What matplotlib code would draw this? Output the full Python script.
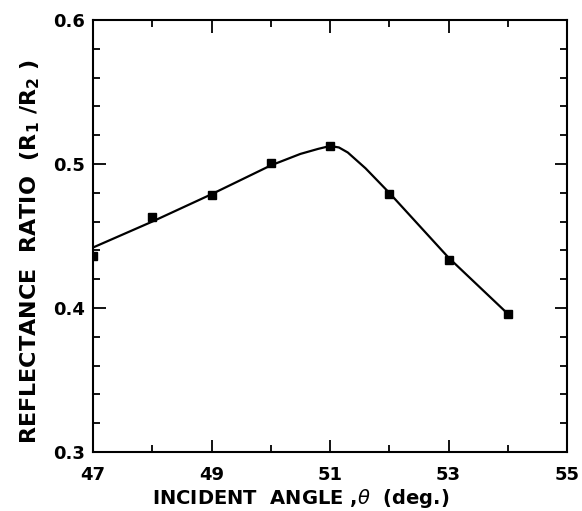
import matplotlib
matplotlib.use("Agg")
import matplotlib.pyplot as plt
from matplotlib.ticker import MultipleLocator, FixedLocator

# measured points (squares)
angle = [47, 48, 49, 50, 51, 52, 53, 54]
ratio = [0.436, 0.463, 0.4785, 0.501, 0.5125, 0.479, 0.433, 0.396]

# drawn smooth curve
curve_angle = [47, 48, 49, 50, 50.5, 50.8, 51, 51.15, 51.3, 51.6, 52, 53, 54]
curve_ratio = [0.442, 0.460, 0.479, 0.499, 0.507, 0.5105, 0.5125, 0.5115, 0.508, 0.497, 0.480, 0.435, 0.396]

xticks = [47, 49, 51, 53, 55]
xtick_labels = ["47", "49", "51", "53", "55"]
yticks = [0.3, 0.4, 0.5, 0.6]
ytick_labels = ["0.3", "0.4", "0.5", "0.6"]

plt.rcParams['font.family'] = ['DejaVu Sans']
plt.rcParams['font.weight'] = 'bold'
plt.rcParams['mathtext.fontset'] = 'custom'
plt.rcParams['mathtext.it'] = 'DejaVu Sans:italic:normal'
plt.rcParams['mathtext.rm'] = 'DejaVu Sans:bold'
plt.rcParams['mathtext.bf'] = 'DejaVu Sans:bold'

fig = plt.figure(figsize=(5.82, 5.11), dpi=100)
ax = fig.add_axes([93/582, 1-452/511, (567-93)/582, (452-20)/511])

ax.plot(curve_angle, curve_ratio, color='black', lw=1.6, zorder=2)
ax.plot(angle, ratio, linestyle='none', marker='s', ms=6, color='black', zorder=3)

ax.set_xlim(47, 55)
ax.set_ylim(0.3, 0.6)
ax.xaxis.set_major_locator(FixedLocator(xticks))
ax.set_xticklabels(xtick_labels)
ax.xaxis.set_minor_locator(MultipleLocator(1))
ax.yaxis.set_major_locator(FixedLocator(yticks))
ax.set_yticklabels(ytick_labels)
ax.yaxis.set_minor_locator(MultipleLocator(0.02))

for s in ax.spines.values():
    s.set_linewidth(1.5)

ax.tick_params(which='both', direction='in', top=True, right=True, width=1.3, colors='black')
ax.tick_params(which='major', length=9)
ax.tick_params(which='minor', length=5)
ax.tick_params(axis='x', which='major', labelsize=13, pad=10)
ax.tick_params(axis='y', which='major', labelsize=13, pad=6)
for lab in ax.get_xticklabels() + ax.get_yticklabels():
    lab.set_fontweight('bold')

ax.set_xlabel(r"INCIDENT  ANGLE ,$\mathit{\theta}$  (deg.)", fontsize=14, fontweight='bold')
ax.xaxis.set_label_coords((301-93)/474, -(498-452)/432)
ax.set_ylabel(r"REFLECTANCE  RATIO  (R$_{\mathbf{1}}$ /R$_{\mathbf{2}}$ )", fontsize=16, fontweight='bold')
ax.yaxis.set_label_coords(-(93-30)/474, (452-251)/432)
ax.xaxis.label.set_va('center')
ax.yaxis.label.set_va('center')

fig.savefig("out.png", dpi=100)
